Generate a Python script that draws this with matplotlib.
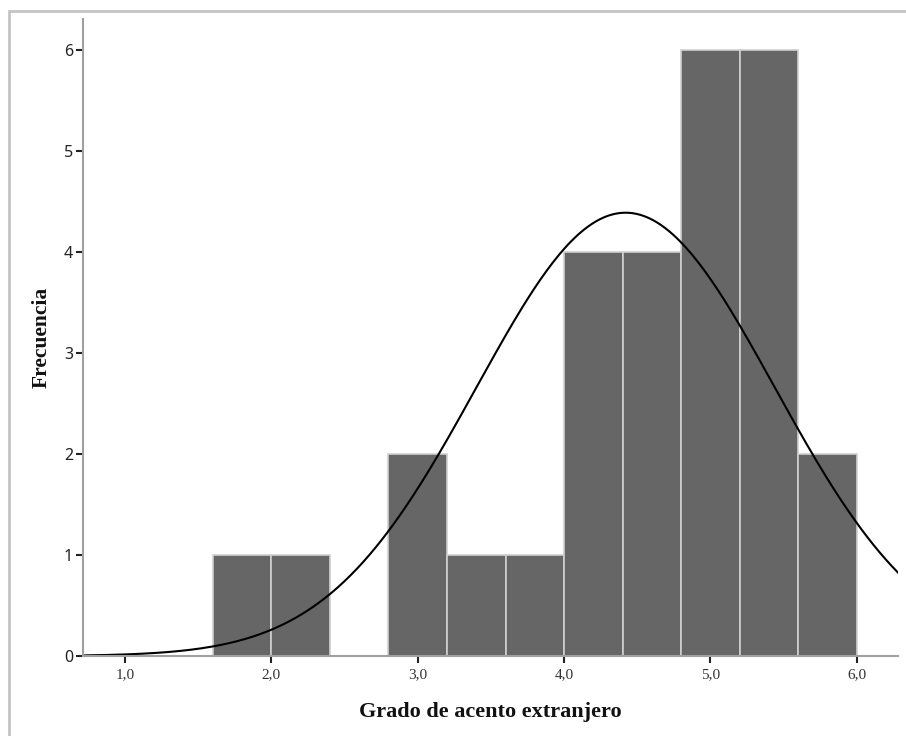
import numpy as np
import matplotlib.pyplot as plt
from matplotlib.patches import Rectangle

# Histogram data (bin edges, counts)
bin_edges = [1.6, 2.0, 2.4, 2.8, 3.2, 3.6, 4.0, 4.4, 4.8, 5.2, 5.6, 6.0]
counts = [1, 1, 0, 2, 1, 1, 4, 4, 6, 6, 2]

# Fitted normal curve parameters
curve_mean = 4.42
curve_sd = 1.018

x_ticks = [1.0, 2.0, 3.0, 4.0, 5.0, 6.0]
x_tick_labels = ["1,0", "2,0", "3,0", "4,0", "5,0", "6,0"]
y_ticks = [0, 1, 2, 3, 4, 5, 6]

BAR_COLOR = "#666666"
BAR_EDGE = "#D0D0D0"
SPINE_COLOR = "#A0A0A0"

fig = plt.figure(figsize=(9.06, 7.36), dpi=100)
ax = fig.add_axes([0.0916, 0.1087, 0.8994, 0.8655])

# outer frame (only top/left visible in the reference)
fig.patches.append(
    Rectangle((9 / 906, -0.05), 1.2, 1 - 11 / 736 + 0.05,
              transform=fig.transFigure, fill=False,
              edgecolor="#C4C4C4", linewidth=2.0)
)

edges = np.array(bin_edges)
widths = np.diff(edges)
ax.bar(edges[:-1], counts, width=widths, align="edge",
       color=BAR_COLOR, edgecolor=BAR_EDGE, linewidth=1.2, zorder=2)

n = sum(counts)
bw = widths[0]
xs = np.linspace(0.713, 6.28, 400)
ys = n * bw / (curve_sd * np.sqrt(2 * np.pi)) * np.exp(-0.5 * ((xs - curve_mean) / curve_sd) ** 2)
ax.plot(xs, ys, color="black", linewidth=1.5, zorder=3)

ax.set_xlim(0.713, 6.28)
ax.set_ylim(0, 6.307)

ax.set_xticks(x_ticks)
ax.set_xticklabels(x_tick_labels, family="Liberation Serif", fontsize=11, color="#333333")
ax.set_yticks(y_ticks)
ax.set_yticklabels([str(v) for v in y_ticks], family="Noto Sans", fontsize=11.5, color="#222222")
ax.tick_params(axis="both", direction="out", length=5, width=1.5, color="#222222")
ax.tick_params(axis="x", pad=4)
ax.tick_params(axis="y", pad=2)

for side in ("top", "right"):
    ax.spines[side].set_visible(False)
for side in ("left", "bottom"):
    ax.spines[side].set_color(SPINE_COLOR)
    ax.spines[side].set_linewidth(1.5)
    ax.spines[side].set_zorder(4)

ax.set_xlabel("Grado de acento extranjero", family="Liberation Serif",
              fontweight="bold", fontsize=16, labelpad=15, color="#111111")
ax.set_ylabel("Frecuencia", family="Liberation Serif",
              fontweight="bold", fontsize=15.5, labelpad=9, color="#111111")

fig.savefig("out.png", dpi=100)
